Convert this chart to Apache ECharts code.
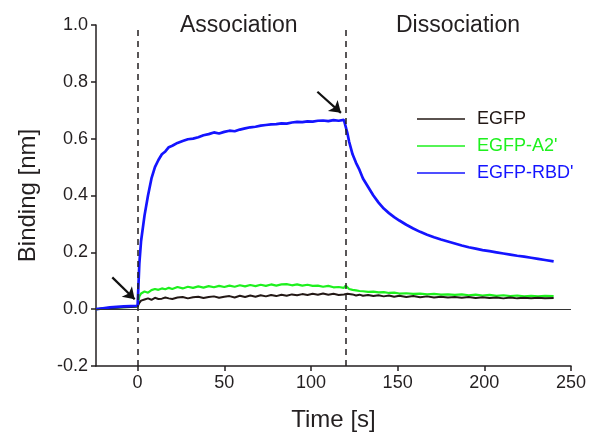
<!DOCTYPE html>
<html>
<head>
<meta charset="utf-8">
<script src="https://cdn.jsdelivr.net/npm/echarts@6/dist/echarts.min.js"></script>
<style>
  html, body { margin: 0; padding: 0; background: #fff; }
  #chart { width: 589px; height: 437px; }
</style>
</head>
<body>
<div id="chart"></div>
<script>
// time points [s]
var times = [-24, -20, -16, -12, -8, -4, 0, 1, 2, 4, 6, 8, 10, 12, 14, 16, 18, 20,
    23, 26, 29, 32, 35, 38, 41, 44, 47, 50, 53, 56, 59, 62, 65, 68, 71, 74, 77, 80,
    83, 86, 89, 92, 95, 98, 101, 104, 107, 110, 113, 116, 119, 120, 121, 122, 124,
    126, 128, 130, 133, 136, 139, 142, 145, 148, 151, 155, 159, 163, 167, 171, 175,
    179, 183, 187, 191, 195, 199, 203, 207, 211, 215, 219, 223, 227, 231, 235, 240];

// binding [nm]
var egfp = [0.000, 0.002, 0.004, 0.005, 0.007, 0.008, 0.009, 0.022, 0.030, 0.034, 0.038, 0.033, 0.040, 0.036, 0.037, 0.041, 0.038, 0.036,
    0.041, 0.043, 0.038, 0.042, 0.044, 0.039, 0.043, 0.045, 0.040, 0.044, 0.046, 0.041, 0.047, 0.043, 0.048, 0.044, 0.049, 0.045, 0.050, 0.046,
    0.051, 0.047, 0.052, 0.049, 0.053, 0.050, 0.054, 0.051, 0.055, 0.051, 0.054, 0.050, 0.052, 0.059, 0.054, 0.049, 0.052,
    0.048, 0.051, 0.047, 0.050, 0.046, 0.049, 0.045, 0.048, 0.044, 0.047, 0.043, 0.046, 0.042, 0.045, 0.041, 0.044,
    0.041, 0.043, 0.040, 0.043, 0.039, 0.042, 0.039, 0.041, 0.038, 0.041, 0.038, 0.040, 0.038, 0.040, 0.038, 0.039];

var egfpA2 = [0.000, 0.002, 0.004, 0.006, 0.007, 0.008, 0.010, 0.045, 0.055, 0.062, 0.058, 0.067, 0.071, 0.068, 0.073, 0.070, 0.075, 0.071,
    0.078, 0.073, 0.079, 0.075, 0.080, 0.076, 0.081, 0.077, 0.082, 0.078, 0.083, 0.079, 0.084, 0.080, 0.085, 0.081, 0.086, 0.082, 0.087, 0.083,
    0.087, 0.088, 0.084, 0.087, 0.083, 0.086, 0.082, 0.083, 0.079, 0.082, 0.077, 0.078, 0.075, 0.083, 0.078, 0.071, 0.068,
    0.066, 0.064, 0.063, 0.061, 0.062, 0.059, 0.060, 0.057, 0.058, 0.055, 0.056, 0.054, 0.055, 0.052, 0.054, 0.051,
    0.052, 0.050, 0.052, 0.049, 0.051, 0.048, 0.050, 0.047, 0.049, 0.046, 0.048, 0.045, 0.047, 0.045, 0.047, 0.046];

var egfpRBD = [0.000, 0.003, 0.006, 0.008, 0.010, 0.011, 0.012, 0.160, 0.240, 0.330, 0.400, 0.460, 0.500, 0.525, 0.545, 0.555, 0.570, 0.575,
    0.585, 0.592, 0.598, 0.600, 0.605, 0.612, 0.616, 0.622, 0.618, 0.624, 0.628, 0.626, 0.632, 0.636, 0.640, 0.642, 0.646, 0.648, 0.650, 0.651,
    0.654, 0.653, 0.657, 0.659, 0.658, 0.661, 0.660, 0.663, 0.664, 0.662, 0.665, 0.663, 0.666, 0.666, 0.620, 0.590, 0.545,
    0.515, 0.490, 0.460, 0.430, 0.400, 0.375, 0.354, 0.338, 0.324, 0.312, 0.297, 0.284, 0.272, 0.262, 0.253, 0.245,
    0.238, 0.231, 0.224, 0.218, 0.213, 0.208, 0.204, 0.200, 0.196, 0.192, 0.188, 0.185, 0.181, 0.177, 0.173, 0.168];

var seriesNames = ['EGFP', "EGFP-A2'", "EGFP-RBD'"];
var seriesColors = ['#231815', '#1ef01e', '#1414ff'];
var xTicks = [0, 50, 100, 150, 200, 250];
var phaseMarks = [0, 120];
// arrows: [start, tip] in data units
var arrows = [
    [[-14.6, 0.112], [-1.7, 0.035]],
    [[103.7, 0.765], [117.3, 0.691]]
];

var FONT = '"Liberation Sans", Arial, sans-serif';

function pairs(ys) {
    return times.map(function (t, i) { return [t, ys[i]]; });
}

var chart = echarts.init(document.getElementById('chart'));

var option = {
    animation: false,
    backgroundColor: '#fff',
    textStyle: { fontFamily: FONT },
    grid: { left: 96, right: 17, top: 25, bottom: 70 },
    legend: {
        orient: 'vertical',
        left: 412,
        top: 105,
        icon: 'rect',
        itemWidth: 48,
        itemHeight: 1.5,
        itemGap: 9,
        textStyle: { fontSize: 18, fontFamily: FONT, padding: [0, 0, 0, 7] },
        data: seriesNames.map(function (n, i) {
            return { name: n, textStyle: { color: seriesColors[i] } };
        })
    },
    xAxis: {
        type: 'value',
        min: -24,
        max: 250,
        name: 'Time [s]',
        nameLocation: 'middle',
        nameGap: 42,
        nameTextStyle: { fontSize: 24, color: '#231f20', fontFamily: FONT },
        axisLine: { onZero: false, lineStyle: { color: '#231f20', width: 1.5 } },
        axisTick: { customValues: xTicks, length: 5, lineStyle: { color: '#231f20', width: 1.5 } },
        axisLabel: { customValues: xTicks, fontSize: 18, color: '#231f20', margin: 8 },
        splitLine: { show: false }
    },
    yAxis: {
        type: 'value',
        min: -0.2,
        max: 1.0,
        interval: 0.2,
        name: 'Binding [nm]',
        nameLocation: 'middle',
        nameGap: 56,
        nameTextStyle: { fontSize: 24, color: '#231f20', fontFamily: FONT },
        axisLine: { show: true, onZero: false, lineStyle: { color: '#231f20', width: 1.5 } },
        axisTick: { show: true, length: 5, lineStyle: { color: '#231f20', width: 1.5 } },
        axisLabel: {
            fontSize: 18, color: '#231f20', margin: 8,
            formatter: function (v) { return v.toFixed(1); }
        },
        splitLine: { show: false }
    },
    graphic: [
        { type: 'text', left: 180, top: 14, style: { text: 'Association', font: '23px ' + FONT, fill: '#231f20' } },
        { type: 'text', left: 396, top: 14, style: { text: 'Dissociation', font: '23px ' + FONT, fill: '#231f20' } }
    ],
    series: [
        {
            name: seriesNames[0], type: 'line', data: pairs(egfp),
            symbol: 'none', z: 3,
            lineStyle: { color: seriesColors[0], width: 2 },
            itemStyle: { color: seriesColors[0] },
            markLine: {
                silent: true, symbol: 'none',
                label: { show: false },
                lineStyle: { color: '#231f20', type: [6, 5], width: 1.5 },
                data: phaseMarks.map(function (x) { return { xAxis: x }; })
                    .concat([{ yAxis: 0, lineStyle: { type: 'solid', width: 1, color: '#333' } }])
            }
        },
        {
            name: seriesNames[1], type: 'line', data: pairs(egfpA2),
            symbol: 'none', z: 2,
            lineStyle: { color: seriesColors[1], width: 2.2 },
            itemStyle: { color: seriesColors[1] }
        },
        {
            name: seriesNames[2], type: 'line', data: pairs(egfpRBD),
            symbol: 'none', z: 4,
            lineStyle: { color: seriesColors[2], width: 2.7 },
            itemStyle: { color: seriesColors[2] },
            markLine: {
                silent: true,
                symbol: ['none', 'arrow'],
                symbolSize: 11,
                label: { show: false },
                lineStyle: { color: '#111', type: 'solid', width: 2.2 },
                data: arrows.map(function (a) {
                    return [{ coord: a[0] }, { coord: a[1] }];
                })
            }
        }
    ]
};

chart.setOption(option);
</script>
</body>
</html>
